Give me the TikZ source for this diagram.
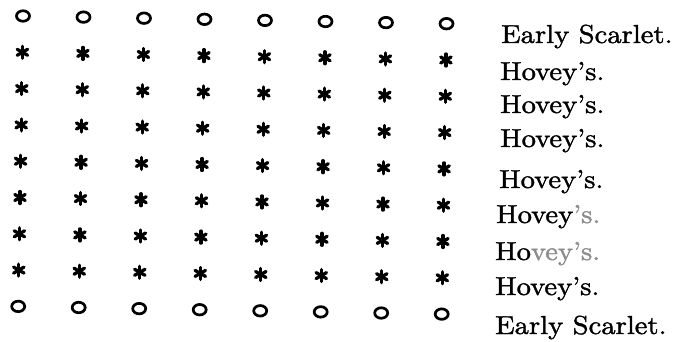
\documentclass[tikz,border=0pt]{standalone}
\usepackage{fontspec}
\newfontfamily\heavyroman{lmroman10-regular.otf}[FakeBold=1.4,FakeStretch=1.1,Ligatures=TeX]
\usetikzlibrary{shapes.geometric}
\begin{document}
\begin{tikzpicture}[x=1pt,y=-1pt,
  ring/.style={ellipse, draw, line width=2.7pt, minimum width=13pt, minimum height=10.5pt, inner sep=0pt},
  starmark/.style={minimum size=18pt, inner sep=0pt,
    path picture={
      \begin{scope}[shift={(path picture bounding box.center)}]
        \foreach \a in {90,30,150}
          \draw[line width=3.3pt, line cap=round] (\a:6pt) -- (\a+180:6pt);
      \end{scope}}},
  label/.style={anchor=base west, inner sep=0pt, font=\heavyroman\fontsize{26}{30}\selectfont}]
\useasboundingbox (0,0) rectangle (679,342);
\fill[white] (0,0) rectangle (679,342);
\foreach \c in {0,...,7}{
  \foreach \r in {0,...,8}{
    \pgfmathsetmacro{\xx}{23+60.5*\c-0.6*\r}
    \pgfmathsetmacro{\yy}{16+36.3*\r+1.1*\c}
    \ifnum\r=0
      \node[ring] (m-\r-\c) at (\xx,\yy) {};
    \else\ifnum\r=8
      \node[ring] (m-\r-\c) at (\xx,\yy) {};
    \else
      \node[starmark] (m-\r-\c) at (\xx,\yy) {};
    \fi\fi
  }
}
\node[label] (l0) at (501,43) {Early Scarlet.};
\node[label] (l1) at (500,80) {Hovey’s.};
\node[label] (l2) at (500,113) {Hovey’s.};
\node[label] (l3) at (500,147) {Hovey’s.};
\node[label] (l4) at (499,188) {Hovey’s.};
\node[label] (l5) at (496,223) {Hovey\textcolor{black!45}{’s.}};
\node[label] (l6) at (495,260) {Ho\textcolor{black!45}{vey’s.}};
\node[label] (l7) at (495,295) {Hovey’s.};
\node[label] (l8) at (495,334) {Early Scarlet.};
\end{tikzpicture}
\end{document}
